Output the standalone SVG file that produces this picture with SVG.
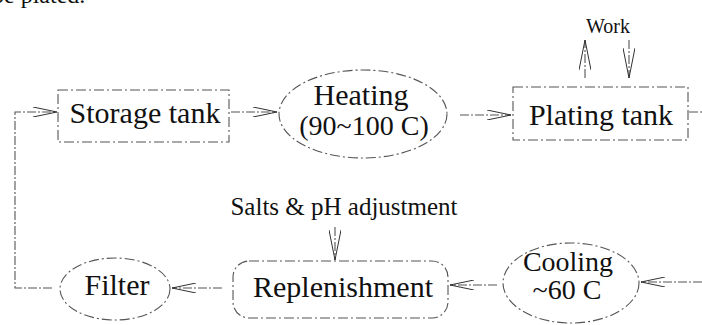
<svg xmlns="http://www.w3.org/2000/svg" width="702" height="325" viewBox="0 0 702 325">
<defs>
<marker id="arr" viewBox="0 0 24 10" refX="24" refY="5" markerWidth="24" markerHeight="10" markerUnits="userSpaceOnUse" orient="auto">
<path d="M0,0 L24,5 L0,10" fill="none" stroke="#333" stroke-width="1"/>
</marker>
<marker id="arrLong" viewBox="0 0 30 12" refX="30" refY="6" markerWidth="30" markerHeight="12" markerUnits="userSpaceOnUse" orient="auto">
<path d="M0,0 L30,6 L0,12" fill="none" stroke="#333" stroke-width="1"/>
</marker>
<style>
.shape{fill:none;stroke:#555;stroke-width:1.1;stroke-dasharray:10 3 2 3}
.conn{fill:none;stroke:#555;stroke-width:1.1;stroke-dasharray:9 2 2 2}
.t{font-family:"Liberation Serif","Times New Roman",serif;fill:#111;text-anchor:middle}
</style>
</defs>
<rect width="702" height="325" fill="#fff"/>
<text class="t" x="-8" y="3" font-size="24" style="text-anchor:start">be plated.</text>
<g id="storage">
<rect class="shape" x="58" y="90" width="171" height="52"/>
<text class="t" x="145" y="123" font-size="30">Storage tank</text>
</g>
<g id="heating">
<ellipse class="shape" cx="363" cy="114" rx="84" ry="44"/>
<text class="t" x="361" y="105" font-size="30">Heating</text>
<text class="t" x="364" y="135" font-size="28">(90~100 C)</text>
</g>
<g id="plating">
<rect class="shape" x="513" y="87" width="175" height="53"/>
<text class="t" x="601" y="125" font-size="30">Plating tank</text>
</g>
<g id="work">
<text class="t" x="608" y="33" font-size="20">Work</text>
</g>
<g id="salts">
<text class="t" x="344" y="215" font-size="25">Salts &amp; pH adjustment</text>
</g>
<g id="replenishment">
<rect class="shape" x="233" y="261" width="215" height="57" rx="16"/>
<text class="t" x="343" y="297" font-size="30">Replenishment</text>
</g>
<g id="filter">
<ellipse class="shape" cx="115" cy="289" rx="55" ry="31"/>
<text class="t" x="117" y="295" font-size="30">Filter</text>
</g>
<g id="cooling">
<ellipse class="shape" cx="571" cy="283" rx="68" ry="40"/>
<text class="t" x="568" y="271" font-size="28">Cooling</text>
<text class="t" x="567" y="299" font-size="28">~60 C</text>
</g>
<g id="connectors">
<path class="conn" d="M52,288 H15 V112 H57" marker-end="url(#arr)"/>
<path class="conn" d="M231,112 H277" marker-end="url(#arr)"/>
<path class="conn" d="M460,115 H511" marker-end="url(#arr)"/>
<path class="conn" d="M689,112 H702"/>
<path class="conn" d="M585,78 V40" marker-end="url(#arrLong)"/>
<path class="conn" d="M629,40 V78" marker-end="url(#arrLong)"/>
<path class="conn" d="M335,227 V260" marker-end="url(#arrLong)"/>
<path class="conn" d="M702,282 H641" marker-end="url(#arr)"/>
<path class="conn" d="M497,285 H450" marker-end="url(#arr)"/>
<path class="conn" d="M222,288 H172" marker-end="url(#arr)"/>
</g>
</svg>
